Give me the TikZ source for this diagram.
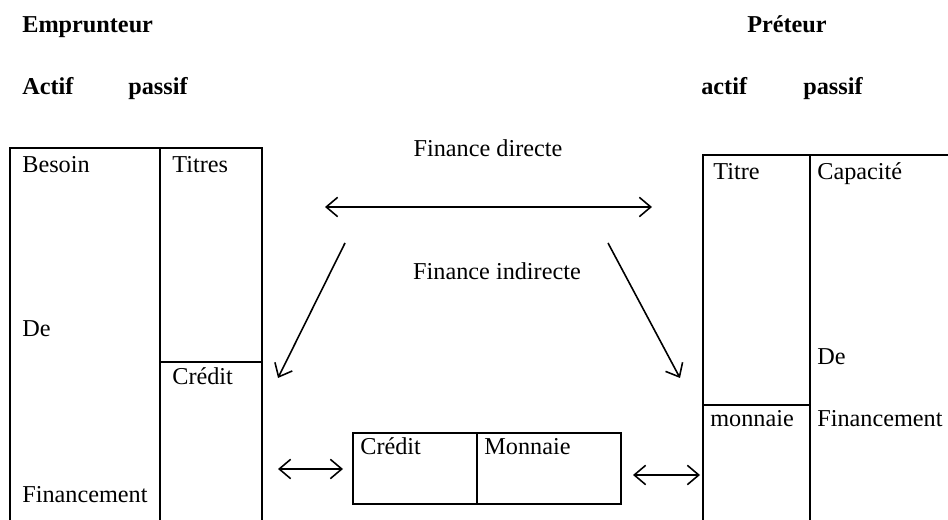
\documentclass[tikz,border=0pt]{standalone}
\usepackage{fontspec}
\setmainfont{Liberation Serif}
\usetikzlibrary{arrows.meta}

\tikzset{
  lbl/.style={anchor=base west, inner sep=0pt, font=\fontsize{13.8}{16}\selectfont},
  titre/.style={lbl, font=\fontsize{13.8}{16}\selectfont\bfseries},
  bilan/.style={line width=0.7pt},
  fleche/.style={line width=0.9pt, >={Straight Barb[length=6.5pt, width=11pt]}}
}

\begin{document}
\begin{tikzpicture}[x=0.02cm, y=-0.02cm]
    \useasboundingbox (0,0) rectangle (948,520);
    \clip (0,0) rectangle (948,520);

    % En-têtes
    \node[titre] (emp) at (22,33) {Emprunteur};
    \node[titre] (actG) at (22,95) {Actif};
    \node[titre] (pasG) at (128,95) {passif};
    \node[titre, anchor=base] (pret) at (787,33) {Préteur};
    \node[titre] (actD) at (701,95) {actif};
    \node[titre] (pasD) at (803,95) {passif};

    % Bilan de l'emprunteur
    \draw[bilan] (10,148) rectangle (262,530);
    \draw[bilan] (160,148) -- (160,530);
    \draw[bilan] (160,362) -- (262,362);
    \node[lbl] (besoin) at (22,173) {Besoin};
    \node[lbl] (titres) at (172,173) {Titres};
    \node[lbl] (deG) at (22,337) {De};
    \node[lbl] (credG) at (172,385) {Crédit};
    \node[lbl] (finG) at (22,503) {Financement};

    % Bilan du préteur
    \draw[bilan] (703,155) rectangle (960,530);
    \draw[bilan] (810,155) -- (810,530);
    \draw[bilan] (703,405) -- (810,405);
    \node[lbl] (titre) at (713,180) {Titre};
    \node[lbl] (capa) at (817,180) {Capacité};
    \node[lbl] (deD) at (817,365) {De};
    \node[lbl] (monD) at (710,427) {monnaie};
    \node[lbl] (finD) at (817,427) {Financement};

    % Intermédiaire
    \draw[bilan] (353,433) rectangle (621,504);
    \draw[bilan] (477,433) -- (477,504);
    \node[lbl] (credM) at (360,455) {Crédit};
    \node[lbl] (monM) at (484,455) {Monnaie};

    % Finance directe / indirecte
    \node[lbl, anchor=base] (fdir) at (488,157) {Finance directe};
    \node[lbl, anchor=base] (findir) at (497,280) {Finance indirecte};

    \coordinate (dirG) at (325,207);
    \coordinate (dirD) at (652,207);
    \coordinate (indG1) at (345,243);
    \coordinate (indG2) at (278,378);
    \coordinate (indD1) at (608,243);
    \coordinate (indD2) at (680,378);
    \coordinate (echG1) at (278,469);
    \coordinate (echG2) at (343,469);
    \coordinate (echD1) at (633,475);
    \coordinate (echD2) at (700,475);

    \draw[fleche, <->] (dirG) -- (dirD);
    \draw[fleche, ->] (indG1) -- (indG2);
    \draw[fleche, ->] (indD1) -- (indD2);
    \draw[fleche, <->] (echG1) -- (echG2);
    \draw[fleche, <->] (echD1) -- (echD2);
\end{tikzpicture}
\end{document}
